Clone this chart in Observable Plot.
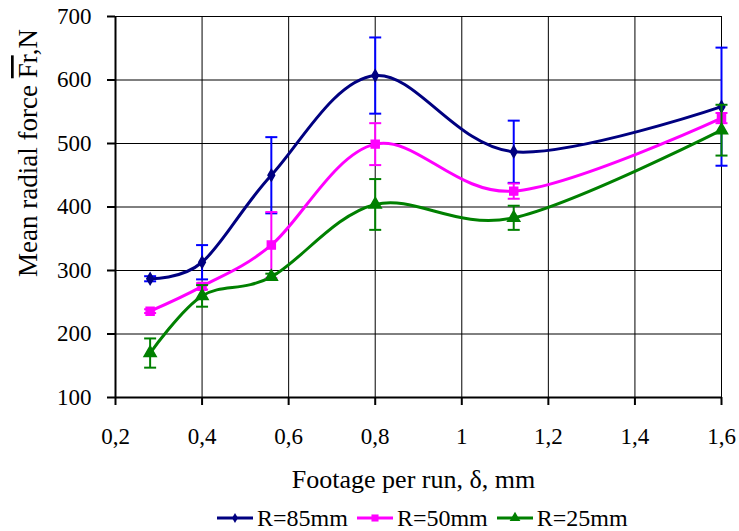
<!DOCTYPE html>
<html><head><meta charset="utf-8">
<script src="https://cdn.jsdelivr.net/npm/d3@7"></script>
<script src="https://cdn.jsdelivr.net/npm/@observablehq/plot@0.6"></script>
<style>
body{margin:0;background:#fff;font-family:"Liberation Serif","Times New Roman",serif;}
#chart{width:739px;height:497px;}
#legend{display:flex;justify-content:flex-start;align-items:center;height:42px;font-size:24px;color:#000;padding-left:217px;}
.item{display:flex;align-items:center;margin-right:9px;}
</style></head><body>
<div id="chart"></div>
<div id="legend"></div>
<script>
const footage = [0.28, 0.4, 0.56, 0.8, 1.12, 1.6];
const seriesNames = ["R=85mm", "R=50mm", "R=25mm"];
const force85 = [287, 313, 450, 607, 487, 558];
const error85 = [4, 27, 60, 60, 49, 93];
const force50 = [236, 275, 340, 499, 425, 540];
const error50 = [3, 5, 52, 33, 12, 8];
const force25 = [170, 260, 290, 404, 383, 521];
const error25 = [23, 17, 5, 40, 19, 40];
const xTicks = [0.2, 0.4, 0.6, 0.8, 1, 1.2, 1.4, 1.6];
const yTicks = [100, 200, 300, 400, 500, 600, 700];
const xLabel = "Footage per run, δ, mm";
const lineColors = ["#000080", "#ff00ff", "#008000"];
const errColors = ["#0000ff", "#ff00ff", "#008000"];
const markerSymbols = ["diamond", "square", "triangle"];
const markerR = [3.5, 4.5, 4.5];

const forces = [force85, force50, force25];
const errors = [error85, error50, error25];
const series = seriesNames.map((name, i) =>
  footage.map((x, j) => ({s: name, x, y: forces[i][j], e: errors[i][j]})));

const capSymbol = {draw(ctx, size) {const w = Math.sqrt(size / Math.PI); ctx.moveTo(-w, 0); ctx.lineTo(w, 0);}};
const fmt = d => String(d).replace(".", ",");

const marks = [
  Plot.gridX(xTicks, {stroke: "#000", strokeOpacity: 1, strokeWidth: 1}),
  Plot.gridY(yTicks, {stroke: "#000", strokeOpacity: 1, strokeWidth: 1}),
  Plot.axisX(xTicks, {tickFormat: fmt, tickSize: 8, tickPadding: 22, strokeWidth: 2, fontSize: 23, label: null}),
  Plot.axisY(yTicks, {tickSize: 8, tickPadding: 16, strokeWidth: 2, fontSize: 23, label: null}),
  Plot.ruleX([0.2], {stroke: "#000", strokeWidth: 2}),
  Plot.ruleY([100], {stroke: "#000", strokeWidth: 2}),
  Plot.text([xLabel], {frameAnchor: "bottom", dy: 90, dx: -5, fontSize: 26, text: d => d, fill: "#000"})
];
series.forEach((rows, i) => {
  marks.push(Plot.line(rows, {x: "x", y: "y", stroke: lineColors[i], strokeWidth: 3, curve: "cardinal", tension: 0}));
});
series.forEach((rows, i) => {
  marks.push(Plot.ruleX(rows, {x: "x", y1: d => d.y - d.e, y2: d => d.y + d.e, stroke: errColors[i], strokeWidth: 2}));
  marks.push(Plot.dot(rows, {x: "x", y: d => d.y - d.e, symbol: capSymbol, r: 6, stroke: errColors[i], strokeWidth: 2}));
  marks.push(Plot.dot(rows, {x: "x", y: d => d.y + d.e, symbol: capSymbol, r: 6, stroke: errColors[i], strokeWidth: 2}));
  marks.push(Plot.dot(rows, {x: "x", y: "y", symbol: markerSymbols[i], r: markerR[i], fill: lineColors[i], stroke: lineColors[i]}));
});

const chart = Plot.plot({
  width: 739, height: 497,
  marginLeft: 115, marginRight: 18, marginTop: 16, marginBottom: 100,
  style: {fontFamily: "Liberation Serif, Times New Roman, serif", fontSize: "23px", color: "#000", background: "#fff"},
  x: {domain: [0.2, 1.6]},
  y: {domain: [100, 700]},
  marks
});
document.getElementById("chart").append(chart);

// Y axis title with overline on Fr
const svg = d3.select(chart);
const t = svg.append("text")
  .attr("transform", "translate(37,153) rotate(-90)")
  .attr("text-anchor", "middle")
  .attr("font-size", 27)
  .attr("fill", "#000")
  .attr("font-family", "Liberation Serif, Times New Roman, serif");
t.append("tspan").text("Mean radial force ");
t.append("tspan").attr("text-decoration", "overline").style("text-decoration", "overline").text("Fr");
t.append("tspan").text(",N");

// Legend
const legend = d3.select("#legend");
seriesNames.forEach((name, i) => {
  const item = legend.append("div").attr("class", "item");
  const s = item.append("svg").attr("width", 36).attr("height", 14);
  s.append("line").attr("x1", 0).attr("x2", 36).attr("y1", 7).attr("y2", 7).attr("stroke", lineColors[i]).attr("stroke-width", 3);
  s.append("path").attr("transform", "translate(18,7)")
    .attr("d", d3.symbol(i === 0 ? d3.symbolDiamond : i === 1 ? d3.symbolSquare : d3.symbolTriangle, i === 0 ? 30 : 50)())
    .attr("fill", lineColors[i]);
  item.append("span").text(name).style("margin-left", "4px");
});
</script>
</body></html>
